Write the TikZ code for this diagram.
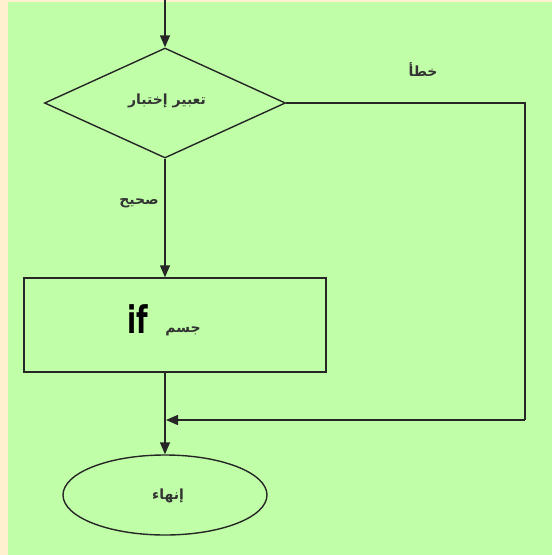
\documentclass[tikz,border=0pt]{standalone}
\usepackage{fontspec}
\usetikzlibrary{shapes.geometric,arrows.meta}
\TeXXeTstate=1
\newfontfamily\arabicfont[Script=Arabic]{DejaVu Sans}
\setsansfont{DejaVu Sans}
\definecolor{bggreen}{HTML}{C0FFA8}
\definecolor{bgcream}{HTML}{FFF0D0}
\tikzset{
  line/.style={line width=1.4pt,draw=black!85},
  arr/.style={line, -{Triangle[length=12pt,width=10pt]}},
  lbl/.style={font=\arabicfont\bfseries\fontsize{14}{16}\selectfont, text=black!80, inner sep=0pt}
}
\begin{document}
\begin{tikzpicture}[x=1pt,y=-1pt]
\useasboundingbox (0,0) rectangle (552,555);
\fill[bgcream] (0,0) rectangle (552,555);
\fill[bggreen] (7.5,1.5) rectangle (552,555);
% diamond
\node[line, diamond, aspect=2.19, minimum width=241pt, minimum height=110pt, inner sep=0pt] (dec) at (165,103) {};
\node[lbl] (dectext) at (167,101) {\beginR تعبير إختبار\endR};
% rectangle
\node[line, rectangle, minimum width=302pt, minimum height=94pt, inner sep=0pt] (body) at (175,325) {};
\node[inner sep=0pt, anchor=base west] (bodyif) at (127,333) {\scalebox{0.7}[1]{\sffamily\bfseries\fontsize{38}{40}\selectfont if}};
\node[lbl, anchor=base] (bodytext) at (183,332) {\beginR جسم\endR};
% ellipse
\node[line, ellipse, minimum width=204pt, minimum height=80pt, inner sep=0pt] (end) at (165,495) {};
\node[lbl] (endtext) at (168,496) {\beginR إنهاء\endR};
% coordinates
\coordinate (start) at (165,0);
\coordinate (rtop) at (525,103);
\coordinate (rbot) at (525,420);
\coordinate (join) at (165,420);
% labels
\node[lbl] (false) at (423,70) {\beginR خطأ\endR};
\node[lbl] (true) at (139,203) {\beginR صحيح\endR};
% connectors
\draw[arr] (start) -- (dec.north);
\draw[arr] (dec.south) -- (body.north -| dec.south);
\draw[arr] (body.south -| dec.south) -- (end.north);
\draw[line] (dec.east) -- (rtop) -- (rbot);
\draw[arr] (rbot) -- ([xshift=1pt]join);
\end{tikzpicture}
\end{document}
